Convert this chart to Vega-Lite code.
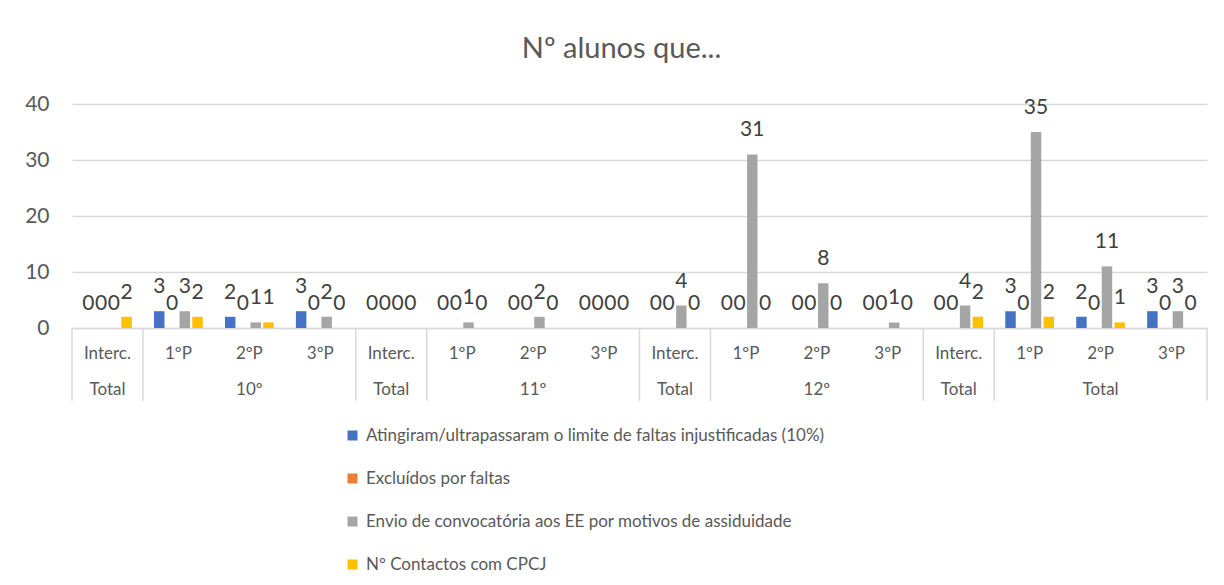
{
  "$schema": "https://vega.github.io/schema/vega-lite/v6.json",
  "width": 1135,
  "height": 224,
  "autosize": {"type": "none"},
  "padding": {"left": 72, "top": 104, "right": 17, "bottom": 257},
  "background": "white",
  "config": {"view": {"stroke": null}, "font": "Lato"},
  "title": {"text": "Nº alunos que...", "font": "Lato", "fontSize": 29, "fontWeight": "normal", "color": "#595959", "anchor": "middle", "offset": 29, "dx": -18},
  "datasets": {
    "main": [
      {"cat": "Interc.|Total|1", "Atingiram/ultrapassaram o limite de faltas injustificadas (10%)": 0, "Excluídos por faltas": 0, "Envio de convocatória aos EE por motivos de assiduidade": 0, "Nº Contactos com CPCJ": 2},
      {"cat": "1ºP||2", "Atingiram/ultrapassaram o limite de faltas injustificadas (10%)": 3, "Excluídos por faltas": 0, "Envio de convocatória aos EE por motivos de assiduidade": 3, "Nº Contactos com CPCJ": 2},
      {"cat": "2ºP|10º|3", "Atingiram/ultrapassaram o limite de faltas injustificadas (10%)": 2, "Excluídos por faltas": 0, "Envio de convocatória aos EE por motivos de assiduidade": 1, "Nº Contactos com CPCJ": 1},
      {"cat": "3ºP||4", "Atingiram/ultrapassaram o limite de faltas injustificadas (10%)": 3, "Excluídos por faltas": 0, "Envio de convocatória aos EE por motivos de assiduidade": 2, "Nº Contactos com CPCJ": 0},
      {"cat": "Interc.|Total|5", "Atingiram/ultrapassaram o limite de faltas injustificadas (10%)": 0, "Excluídos por faltas": 0, "Envio de convocatória aos EE por motivos de assiduidade": 0, "Nº Contactos com CPCJ": 0},
      {"cat": "1ºP||6", "Atingiram/ultrapassaram o limite de faltas injustificadas (10%)": 0, "Excluídos por faltas": 0, "Envio de convocatória aos EE por motivos de assiduidade": 1, "Nº Contactos com CPCJ": 0},
      {"cat": "2ºP|11º|7", "Atingiram/ultrapassaram o limite de faltas injustificadas (10%)": 0, "Excluídos por faltas": 0, "Envio de convocatória aos EE por motivos de assiduidade": 2, "Nº Contactos com CPCJ": 0},
      {"cat": "3ºP||8", "Atingiram/ultrapassaram o limite de faltas injustificadas (10%)": 0, "Excluídos por faltas": 0, "Envio de convocatória aos EE por motivos de assiduidade": 0, "Nº Contactos com CPCJ": 0},
      {"cat": "Interc.|Total|9", "Atingiram/ultrapassaram o limite de faltas injustificadas (10%)": 0, "Excluídos por faltas": 0, "Envio de convocatória aos EE por motivos de assiduidade": 4, "Nº Contactos com CPCJ": 0},
      {"cat": "1ºP||10", "Atingiram/ultrapassaram o limite de faltas injustificadas (10%)": 0, "Excluídos por faltas": 0, "Envio de convocatória aos EE por motivos de assiduidade": 31, "Nº Contactos com CPCJ": 0},
      {"cat": "2ºP|12º|11", "Atingiram/ultrapassaram o limite de faltas injustificadas (10%)": 0, "Excluídos por faltas": 0, "Envio de convocatória aos EE por motivos de assiduidade": 8, "Nº Contactos com CPCJ": 0},
      {"cat": "3ºP||12", "Atingiram/ultrapassaram o limite de faltas injustificadas (10%)": 0, "Excluídos por faltas": 0, "Envio de convocatória aos EE por motivos de assiduidade": 1, "Nº Contactos com CPCJ": 0},
      {"cat": "Interc.|Total|13", "Atingiram/ultrapassaram o limite de faltas injustificadas (10%)": 0, "Excluídos por faltas": 0, "Envio de convocatória aos EE por motivos de assiduidade": 4, "Nº Contactos com CPCJ": 2},
      {"cat": "1ºP||14", "Atingiram/ultrapassaram o limite de faltas injustificadas (10%)": 3, "Excluídos por faltas": 0, "Envio de convocatória aos EE por motivos de assiduidade": 35, "Nº Contactos com CPCJ": 2},
      {"cat": "2ºP|Total|15", "Atingiram/ultrapassaram o limite de faltas injustificadas (10%)": 2, "Excluídos por faltas": 0, "Envio de convocatória aos EE por motivos de assiduidade": 11, "Nº Contactos com CPCJ": 1},
      {"cat": "3ºP||16", "Atingiram/ultrapassaram o limite de faltas injustificadas (10%)": 3, "Excluídos por faltas": 0, "Envio de convocatória aos EE por motivos de assiduidade": 3, "Nº Contactos com CPCJ": 0}
    ],
    "sepLeft": [
      {"cat": "Interc.|Total|1"}, {"cat": "1ºP||2"}, {"cat": "Interc.|Total|5"}, {"cat": "1ºP||6"},
      {"cat": "Interc.|Total|9"}, {"cat": "1ºP||10"}, {"cat": "Interc.|Total|13"}, {"cat": "1ºP||14"}
    ],
    "sepRight": [{"cat": "3ºP||16"}]
  },
  "layer": [
    {
      "data": {"name": "main"},
      "transform": [{"fold": ["Atingiram/ultrapassaram o limite de faltas injustificadas (10%)", "Excluídos por faltas", "Envio de convocatória aos EE por motivos de assiduidade", "Nº Contactos com CPCJ"], "as": ["serie", "n"]}],
      "layer": [
        {
          "mark": {"type": "bar"},
          "encoding": {
            "x": {"field": "cat", "type": "nominal", "sort": null,
              "scale": {"domain": ["Interc.|Total|1", "1ºP||2", "2ºP|10º|3", "3ºP||4", "Interc.|Total|5", "1ºP||6", "2ºP|11º|7", "3ºP||8", "Interc.|Total|9", "1ºP||10", "2ºP|12º|11", "3ºP||12", "Interc.|Total|13", "1ºP||14", "2ºP|Total|15", "3ºP||16"], "paddingInner": 0, "paddingOuter": 0},
              "axis": {"title": null, "labelAngle": 0, "ticks": false, "domainColor": "#d9d9d9", "domainWidth": 1.5, "labelFont": "Lato", "labelFontSize": 17, "labelColor": "#595959", "labelPadding": 17, "labelLineHeight": 36, "labelBaseline": "top",
                "labelExpr": "split(datum.value, '|')[1] == '' ? split(datum.value, '|')[0] : [split(datum.value, '|')[0], split(datum.value, '|')[1]]"}},
            "xOffset": {"field": "serie", "type": "nominal",
              "scale": {"domain": ["Atingiram/ultrapassaram o limite de faltas injustificadas (10%)", "Excluídos por faltas", "Envio de convocatória aos EE por motivos de assiduidade", "Nº Contactos com CPCJ"], "paddingInner": 0.18, "paddingOuter": 0.87}},
            "y": {"field": "n", "type": "quantitative",
              "scale": {"domain": [0, 40], "nice": false},
              "axis": {"title": null, "values": [0, 10, 20, 30, 40], "domain": false, "ticks": false, "gridColor": "#d9d9d9", "gridWidth": 1.3, "labelFont": "Lato", "labelFontSize": 21, "labelColor": "#595959", "labelPadding": 23}},
            "color": {"field": "serie", "type": "nominal",
              "scale": {"domain": ["Atingiram/ultrapassaram o limite de faltas injustificadas (10%)", "Excluídos por faltas", "Envio de convocatória aos EE por motivos de assiduidade", "Nº Contactos com CPCJ"], "range": ["#4472C4", "#ED7D31", "#A5A5A5", "#FFC000"]},
              "legend": {"title": null, "orient": "none", "legendX": 272, "legendY": 323, "direction": "vertical", "symbolType": "square", "symbolSize": 100, "symbolStrokeWidth": 0, "labelFont": "Lato", "labelFontSize": 17, "labelColor": "#595959", "rowPadding": 25, "labelOffset": 5, "labelLimit": 800}}
          }
        },
        {
          "mark": {"type": "text", "font": "Lato", "fontSize": 21, "color": "#404040", "baseline": "middle", "dy": -24},
          "encoding": {
            "x": {"field": "cat", "type": "nominal", "sort": null},
            "xOffset": {"field": "serie", "type": "nominal"},
            "y": {"field": "n", "type": "quantitative"},
            "text": {"field": "n", "type": "quantitative"}
          }
        }
      ]
    },
    {
      "data": {"name": "sepLeft"},
      "mark": {"type": "rule", "color": "#d9d9d9", "strokeWidth": 1.5},
      "encoding": {
        "x": {"field": "cat", "type": "nominal", "sort": null, "bandPosition": 0},
        "y": {"datum": 0},
        "y2": {"datum": -13}
      }
    },
    {
      "data": {"name": "sepRight"},
      "mark": {"type": "rule", "color": "#d9d9d9", "strokeWidth": 1.5},
      "encoding": {
        "x": {"field": "cat", "type": "nominal", "sort": null, "bandPosition": 1},
        "y": {"datum": 0},
        "y2": {"datum": -13}
      }
    }
  ]
}
